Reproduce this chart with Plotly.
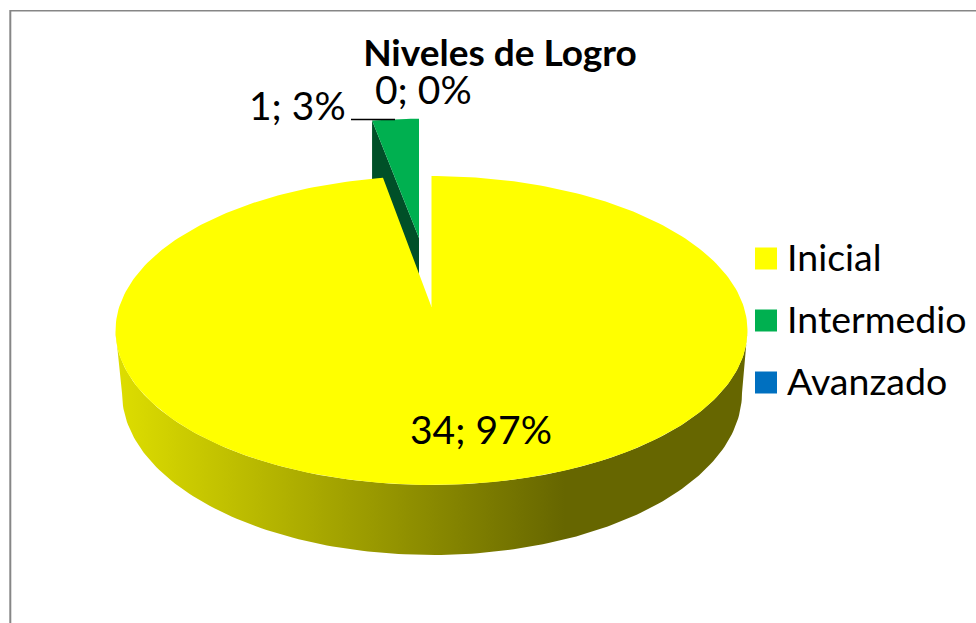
import numpy as np
import plotly.graph_objects as go

# ---------- data ----------
title = "Niveles de Logro"
categories = ["Inicial", "Intermedio", "Avanzado"]
values = [34, 1, 0]
colors = ["#FFFF00", "#00B050", "#0070C0"]

# ---------- drawing geometry (pixel space of the 976x623 page) ----------
W, H = 976, 623
APEX = (431.5, 307.0)       # tip of the main slice
A, B, K = 150.9, 312.3, 0.152  # perspective of the disc
BOTTOM = (432.0, 393.0, 310.0, 162.0)  # lower rim ellipse
FONT = "Lato"
total = sum(values)
fractions = [v / total for v in values]


def rim(theta, scale_x=1.0, scale_y=1.0, apex=APEX):
    """Clockwise-from-top angle -> page position on the tilted disc."""
    u, v = np.sin(theta), np.cos(theta)
    d = 1 + K * v
    return apex[0] + scale_x * B * u / d, apex[1] - scale_y * A * v / d


fig = go.Figure()

# ---------- exploded second slice ----------
start = 2 * np.pi * fractions[0]
end = start + 2 * np.pi * fractions[1]
green_apex = (419.0, 238.0)
gt = np.linspace(start, end, 12)
gx, gy = rim(gt, 0.967, 0.91, green_apex)
wall = 70
fig.add_trace(go.Scatter(
    x=[gx[0], green_apex[0], green_apex[0], gx[0], gx[0]],
    y=[gy[0], green_apex[1], green_apex[1] + wall, gy[0] + wall, gy[0]],
    mode="lines", fill="toself", fillcolor="#005028", line=dict(width=0),
    showlegend=False, hoverinfo="skip"))
fig.add_trace(go.Scatter(
    x=np.r_[green_apex[0], gx, green_apex[0]],
    y=np.r_[green_apex[1], gy, green_apex[1]],
    mode="lines", fill="toself", fillcolor=colors[1], line=dict(width=0),
    showlegend=False, hoverinfo="skip"))

# ---------- side wall of the main slice ----------
widest = np.arccos(-K)
wt = np.linspace(widest, 2 * np.pi - widest, 160)
tx, ty = rim(wt)
bt = np.linspace(1.5 * np.pi, 0.5 * np.pi, 160)
bx = BOTTOM[0] + BOTTOM[2] * np.sin(bt)
by = BOTTOM[1] - BOTTOM[3] * np.cos(bt)
fig.add_trace(go.Scatter(
    x=np.r_[tx, bx, tx[0]], y=np.r_[ty, by, ty[0]],
    mode="lines", fill="toself", line=dict(width=0),
    fillgradient=dict(type="horizontal", start=116, stop=748,
                      colorscale=[[0, "#DEDE00"], [0.71, "#666600"], [1, "#666600"]]),
    showlegend=False, hoverinfo="skip"))

# ---------- top of the main slice ----------
mt = np.linspace(0, start, 300)
mx, my = rim(mt)
fig.add_trace(go.Scatter(
    x=np.r_[APEX[0], mx, APEX[0]], y=np.r_[APEX[1], my, APEX[1]],
    mode="lines", fill="toself", fillcolor=colors[0], line=dict(width=0),
    showlegend=False, hoverinfo="skip"))

# ---------- leader line ----------
fig.add_trace(go.Scatter(
    x=[351, 395], y=[119.5, 119.5], mode="lines",
    line=dict(color="#000000", width=1.5), showlegend=False, hoverinfo="skip"))

# ---------- legend ----------
legend_y = [258.5, 320.5, 382.5]
for name, col, ly in zip(categories, colors, legend_y):
    fig.add_trace(go.Scatter(
        x=[766], y=[ly], mode="markers", name=name,
        marker=dict(symbol="square", size=22, color=col, line=dict(width=0)),
        showlegend=False, hoverinfo="skip"))
    fig.add_annotation(x=785, y=ly - 2, text=name, showarrow=False, xanchor="left",
                       yanchor="middle", font=dict(family=FONT, size=37.5, color="#000000"))

# ---------- data labels ----------
label_pos = [(481, 429), (297, 105), (423, 89)]
for v, f, (lx, ly) in zip(values, fractions, label_pos):
    fig.add_annotation(x=lx, y=ly, text=f"{v}; {round(f * 100)}%", showarrow=False,
                       xanchor="center", yanchor="middle",
                       font=dict(family=FONT, size=39, color="#000000"))

# ---------- frame ----------
fig.add_shape(type="line", x0=10.3, x1=10.3, y0=10, y1=H, line=dict(color="#868686", width=2))
fig.add_shape(type="line", x0=10, x1=W, y0=10.7, y1=10.7, line=dict(color="#868686", width=1.5))

fig.update_layout(
    width=W, height=H, autosize=False,
    margin=dict(l=0, r=0, t=0, b=0),
    paper_bgcolor="#FFFFFF", plot_bgcolor="#FFFFFF",
    title=dict(text=f"<b>{title}</b>", x=500 / W, y=1 - 53 / H, xanchor="center", yanchor="middle",
               font=dict(family=FONT, size=37, color="#000000")),
    xaxis=dict(range=[0, W], visible=False, fixedrange=True),
    yaxis=dict(range=[H, 0], visible=False, fixedrange=True),
    showlegend=False,
)

fig.write_html("out.html", config={"displayModeBar": False},
               post_script="document.body.style.margin='0';document.body.style.overflow='hidden';")
